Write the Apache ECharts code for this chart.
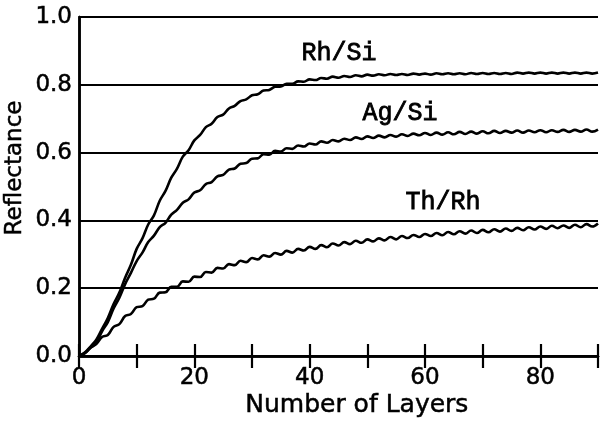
<!DOCTYPE html>
<html>
<head>
<meta charset="utf-8">
<script src="https://cdn.jsdelivr.net/npm/echarts@6/dist/echarts.min.js"></script>
<style>
  html, body { margin: 0; padding: 0; background: #fff; }
  #chart { width: 601px; height: 421px; }
</style>
</head>
<body>
<div id="chart"></div>
<script>
// Number of layers in the multilayer stack
const layers = [
  0, 1, 2, 3, 4, 5, 6, 7, 8, 9,
  10, 11, 12, 13, 14, 15, 16, 17, 18, 19,
  20, 21, 22, 23, 24, 25, 26, 27, 28, 29,
  30, 31, 32, 33, 34, 35, 36, 37, 38, 39,
  40, 41, 42, 43, 44, 45, 46, 47, 48, 49,
  50, 51, 52, 53, 54, 55, 56, 57, 58, 59,
  60, 61, 62, 63, 64, 65, 66, 67, 68, 69,
  70, 71, 72, 73, 74, 75, 76, 77, 78, 79,
  80, 81, 82, 83, 84, 85, 86, 87, 88, 89,
  90
];

// Reflectance of each multilayer versus layer count
const rhSi = [
  0.000, 0.010, 0.028, 0.048, 0.080, 0.112, 0.153, 0.187, 0.231, 0.269,
  0.316, 0.347, 0.388, 0.415, 0.458, 0.487, 0.526, 0.553, 0.588, 0.607,
  0.636, 0.652, 0.675, 0.685, 0.705, 0.712, 0.730, 0.738, 0.752, 0.757,
  0.769, 0.772, 0.783, 0.785, 0.794, 0.795, 0.803, 0.803, 0.810, 0.809,
  0.816, 0.814, 0.820, 0.818, 0.824, 0.821, 0.826, 0.823, 0.828, 0.825,
  0.830, 0.827, 0.831, 0.828, 0.832, 0.829, 0.832, 0.829, 0.833, 0.830,
  0.833, 0.830, 0.834, 0.831, 0.834, 0.831, 0.834, 0.831, 0.835, 0.832,
  0.835, 0.832, 0.835, 0.832, 0.835, 0.832, 0.836, 0.833, 0.836, 0.833,
  0.836, 0.833, 0.836, 0.833, 0.836, 0.833, 0.836, 0.833, 0.836, 0.833,
  0.836
];

const agSi = [
  0.000, 0.008, 0.024, 0.040, 0.073, 0.100, 0.140, 0.172, 0.212, 0.245,
  0.280, 0.305, 0.336, 0.355, 0.380, 0.393, 0.417, 0.431, 0.452, 0.462,
  0.482, 0.489, 0.507, 0.513, 0.530, 0.534, 0.550, 0.553, 0.567, 0.569,
  0.582, 0.583, 0.595, 0.594, 0.605, 0.603, 0.613, 0.611, 0.621, 0.618,
  0.627, 0.624, 0.633, 0.629, 0.637, 0.633, 0.641, 0.637, 0.645, 0.640,
  0.648, 0.643, 0.650, 0.645, 0.652, 0.647, 0.654, 0.649, 0.656, 0.651,
  0.658, 0.652, 0.659, 0.653, 0.660, 0.654, 0.661, 0.655, 0.662, 0.656,
  0.663, 0.657, 0.664, 0.658, 0.664, 0.659, 0.665, 0.659, 0.665, 0.660,
  0.666, 0.660, 0.666, 0.661, 0.667, 0.661, 0.667, 0.662, 0.668, 0.662,
  0.668
];

const thRh = [
  0.000, 0.008, 0.025, 0.035, 0.056, 0.062, 0.086, 0.094, 0.118, 0.124,
  0.144, 0.147, 0.166, 0.169, 0.187, 0.188, 0.204, 0.204, 0.220, 0.219,
  0.234, 0.233, 0.248, 0.246, 0.260, 0.258, 0.271, 0.268, 0.281, 0.277,
  0.289, 0.285, 0.297, 0.293, 0.304, 0.299, 0.310, 0.305, 0.316, 0.311,
  0.322, 0.316, 0.327, 0.321, 0.332, 0.326, 0.336, 0.330, 0.340, 0.334,
  0.344, 0.338, 0.347, 0.341, 0.351, 0.344, 0.354, 0.348, 0.357, 0.351,
  0.360, 0.354, 0.363, 0.356, 0.366, 0.359, 0.368, 0.361, 0.370, 0.363,
  0.372, 0.365, 0.374, 0.367, 0.376, 0.369, 0.378, 0.371, 0.380, 0.373,
  0.382, 0.375, 0.384, 0.377, 0.385, 0.378, 0.387, 0.380, 0.389, 0.382,
  0.391
];

const seriesNames = ['Rh/Si', 'Ag/Si', 'Th/Rh'];
const xTitle = 'Number of Layers';
const yTitle = 'Reflectance';

const pairs = (ys) => layers.map((x, i) => [x, ys[i]]);

const sans = 'DejaVu Sans';
const ink = '#000';

const chart = echarts.init(document.getElementById('chart'), null, { renderer: 'canvas' });

const lineSeries = (name, ys) => ({
  name,
  type: 'line',
  data: pairs(ys),
  showSymbol: false,
  smooth: 0.4,
  lineStyle: { color: ink, width: 2.6 },
  z: 5
});

// In-plot curve labels, set in a typewriter face
const curveLabel = (text, x, y) => ({
  type: 'text', x, y,
  style: {
    text, font: '25px "Liberation Mono"', fill: ink, stroke: ink, lineWidth: 0.8,
    align: 'center', verticalAlign: 'middle'
  }
});

chart.setOption({
  animation: false,
  backgroundColor: '#fff',
  grid: { left: 79, right: 2, top: 17, bottom: 65 },
  xAxis: [
    {
      type: 'value', min: 0, max: 90, interval: 10, position: 'bottom',
      axisLine: { lineStyle: { color: ink, width: 2.5 } },
      axisTick: { inside: true, length: 12, lineStyle: { color: ink, width: 2.2 } },
      axisLabel: {
        formatter: (v) => (v % 20 === 0 ? String(v) : ''),
        fontFamily: sans, fontSize: 23, color: ink, margin: 11,
        textBorderColor: ink, textBorderWidth: 0.5
      },
      splitLine: { show: false }
    },
    {
      type: 'value', min: 0, max: 90, interval: 10, position: 'top',
      axisLine: { lineStyle: { color: ink, width: 2.5 } },
      axisTick: { inside: true, length: 12, lineStyle: { color: ink, width: 2.2 } },
      axisLabel: { show: false },
      splitLine: { show: false }
    }
  ],
  yAxis: [
    {
      type: 'value', min: 0, max: 1, interval: 0.2, position: 'left',
      axisLine: { show: true, lineStyle: { color: ink, width: 2.5 } },
      axisTick: { show: false },
      axisLabel: {
        formatter: (v) => v.toFixed(1),
        fontFamily: sans, fontSize: 23, color: ink, margin: 7,
        textBorderColor: ink, textBorderWidth: 0.5
      },
      splitLine: { show: true, lineStyle: { color: ink, width: 1.8 } }
    },
    {
      type: 'value', min: 0, max: 1, interval: 0.2, position: 'right',
      axisLine: { show: true, lineStyle: { color: ink, width: 2.5 } },
      axisTick: { show: false },
      axisLabel: { show: false },
      splitLine: { show: false }
    }
  ],
  series: [
    lineSeries(seriesNames[0], rhSi),
    lineSeries(seriesNames[1], agSi),
    lineSeries(seriesNames[2], thRh)
  ],
  graphic: [
    {
      type: 'text', left: 245, top: 393,
      style: { text: xTitle, font: '25px "DejaVu Sans"', fill: ink, stroke: ink, lineWidth: 0.5 }
    },
    {
      type: 'text', x: 15.5, y: 168, rotation: Math.PI / 2,
      style: { text: yTitle, font: '23px "DejaVu Sans"', fill: ink, stroke: ink, lineWidth: 0.5, align: 'center', verticalAlign: 'middle' }
    },
    curveLabel(seriesNames[0], 339, 53),
    curveLabel(seriesNames[1], 400, 113),
    curveLabel(seriesNames[2], 443, 202)
  ]
});
</script>
</body>
</html>
